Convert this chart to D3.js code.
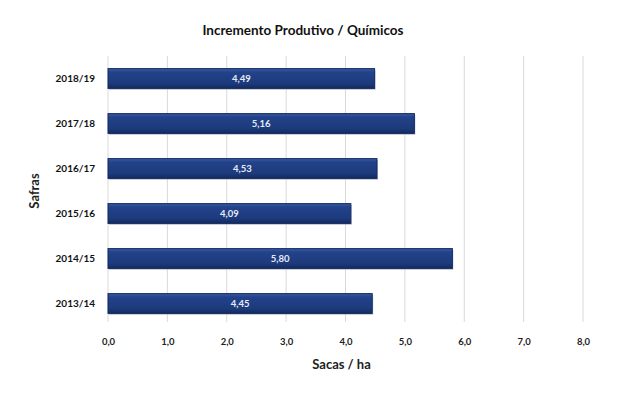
<!DOCTYPE html>
<html>
<head>
<meta charset="utf-8">
<script src="https://cdn.jsdelivr.net/npm/d3@7"></script>
<style>
  body { margin: 0; background: #fff; }
  text { font-family: Lato, "Open Sans", sans-serif; font-weight: bold; }
</style>
</head>
<body>
<div id="chart"></div>
<script>
var safras = ["2018/19", "2017/18", "2016/17", "2015/16", "2014/15", "2013/14"];
var valores = [4.49, 5.16, 4.53, 4.09, 5.80, 4.45];
var xTicks = [0, 1, 2, 3, 4, 5, 6, 7, 8];

var svgWidth = 624;
var svgHeight = 397;

var margin = { top: 56, right: 41, bottom: 71, left: 108 };
var width = svgWidth - margin.left - margin.right;
var height = svgHeight - margin.top - margin.bottom;

var svg = d3.select("#chart")
  .append("svg")
  .attr("width", svgWidth)
  .attr("height", svgHeight);

// gradient for the bevelled bars
var defs = svg.append("defs");
var grad = defs.append("linearGradient")
  .attr("id", "barGrad")
  .attr("x1", 0).attr("y1", 0).attr("x2", 0).attr("y2", 1);
grad.append("stop").attr("offset", "0%").attr("stop-color", "#3a5aa0");
grad.append("stop").attr("offset", "18%").attr("stop-color", "#22428a");
grad.append("stop").attr("offset", "75%").attr("stop-color", "#1d3a7c");
grad.append("stop").attr("offset", "100%").attr("stop-color", "#122a5e");

var chartGroup = svg.append("g")
  .attr("transform", `translate(${margin.left}, ${margin.top})`);

var xScale = d3.scaleLinear()
  .domain([0, 8])
  .range([0, width]);

var yScale = d3.scaleBand()
  .domain(safras)
  .range([0, height])
  .paddingInner(0.56)
  .paddingOuter(0.28);

// gridlines
chartGroup.append("g")
  .selectAll("line")
  .data(xTicks)
  .enter()
  .append("line")
  .attr("x1", d => xScale(d))
  .attr("x2", d => xScale(d))
  .attr("y1", 0)
  .attr("y2", height - 4)
  .attr("stroke", "#d9d9d9")
  .attr("stroke-width", 1);

// x axis
var bottomAxis = d3.axisBottom(xScale)
  .tickValues(xTicks)
  .tickSize(0)
  .tickPadding(0)
  .tickFormat(d => d3.format(".1f")(d).replace(".", ","));

var xAxis = chartGroup.append("g")
  .attr("transform", `translate(0, ${height + 12})`)
  .call(bottomAxis);
xAxis.select(".domain").remove();
xAxis.selectAll("text")
  .attr("font-size", "9.5px")
  .attr("fill", "#222")
  .style("font-family", "Lato, sans-serif");

// y axis
var leftAxis = d3.axisLeft(yScale)
  .tickSize(0)
  .tickPadding(13);

var yAxis = chartGroup.append("g")
  .call(leftAxis);
yAxis.select(".domain").remove();
yAxis.selectAll("text")
  .attr("font-size", "10px")
  .attr("fill", "#111")
  .style("font-family", "Lato, sans-serif");

// bar shadows
chartGroup.selectAll(".shadow")
  .data(valores)
  .enter()
  .append("rect")
  .classed("shadow", true)
  .attr("x", 1)
  .attr("y", (d, i) => yScale(safras[i]) + 1.5)
  .attr("width", d => xScale(d))
  .attr("height", yScale.bandwidth())
  .attr("fill", "#9aa3b5")
  .attr("opacity", 0.6);

// bars
chartGroup.selectAll(".bar")
  .data(valores)
  .enter()
  .append("rect")
  .classed("bar", true)
  .attr("x", 0)
  .attr("y", (d, i) => yScale(safras[i]))
  .attr("width", d => xScale(d))
  .attr("height", yScale.bandwidth())
  .attr("fill", "url(#barGrad)")
  .attr("stroke", "#142b60")
  .attr("stroke-width", 1);

// value labels
chartGroup.selectAll(".valLabel")
  .data(valores)
  .enter()
  .append("text")
  .classed("valLabel", true)
  .attr("x", d => xScale(d) / 2)
  .attr("y", (d, i) => yScale(safras[i]) + yScale.bandwidth() / 2)
  .attr("dy", "0.35em")
  .attr("text-anchor", "middle")
  .attr("font-size", "9.5px")
  .attr("fill", "#e6ecf7")
  .text(d => d3.format(".2f")(d).replace(".", ","));

// title
svg.append("text")
  .attr("x", 303)
  .attr("y", 35)
  .attr("text-anchor", "middle")
  .attr("font-size", "13.5px")
  .attr("fill", "#111")
  .text("Incremento Produtivo / Químicos");

// x label
svg.append("text")
  .attr("x", margin.left + xScale(4) - 4)
  .attr("y", 369)
  .attr("text-anchor", "middle")
  .attr("font-size", "13px")
  .attr("fill", "#222")
  .text("Sacas / ha");

// y label
svg.append("text")
  .attr("transform", `translate(39, 191) rotate(-90)`)
  .attr("text-anchor", "middle")
  .attr("font-size", "13px")
  .attr("fill", "#222")
  .text("Safras");
</script>
</body>
</html>
